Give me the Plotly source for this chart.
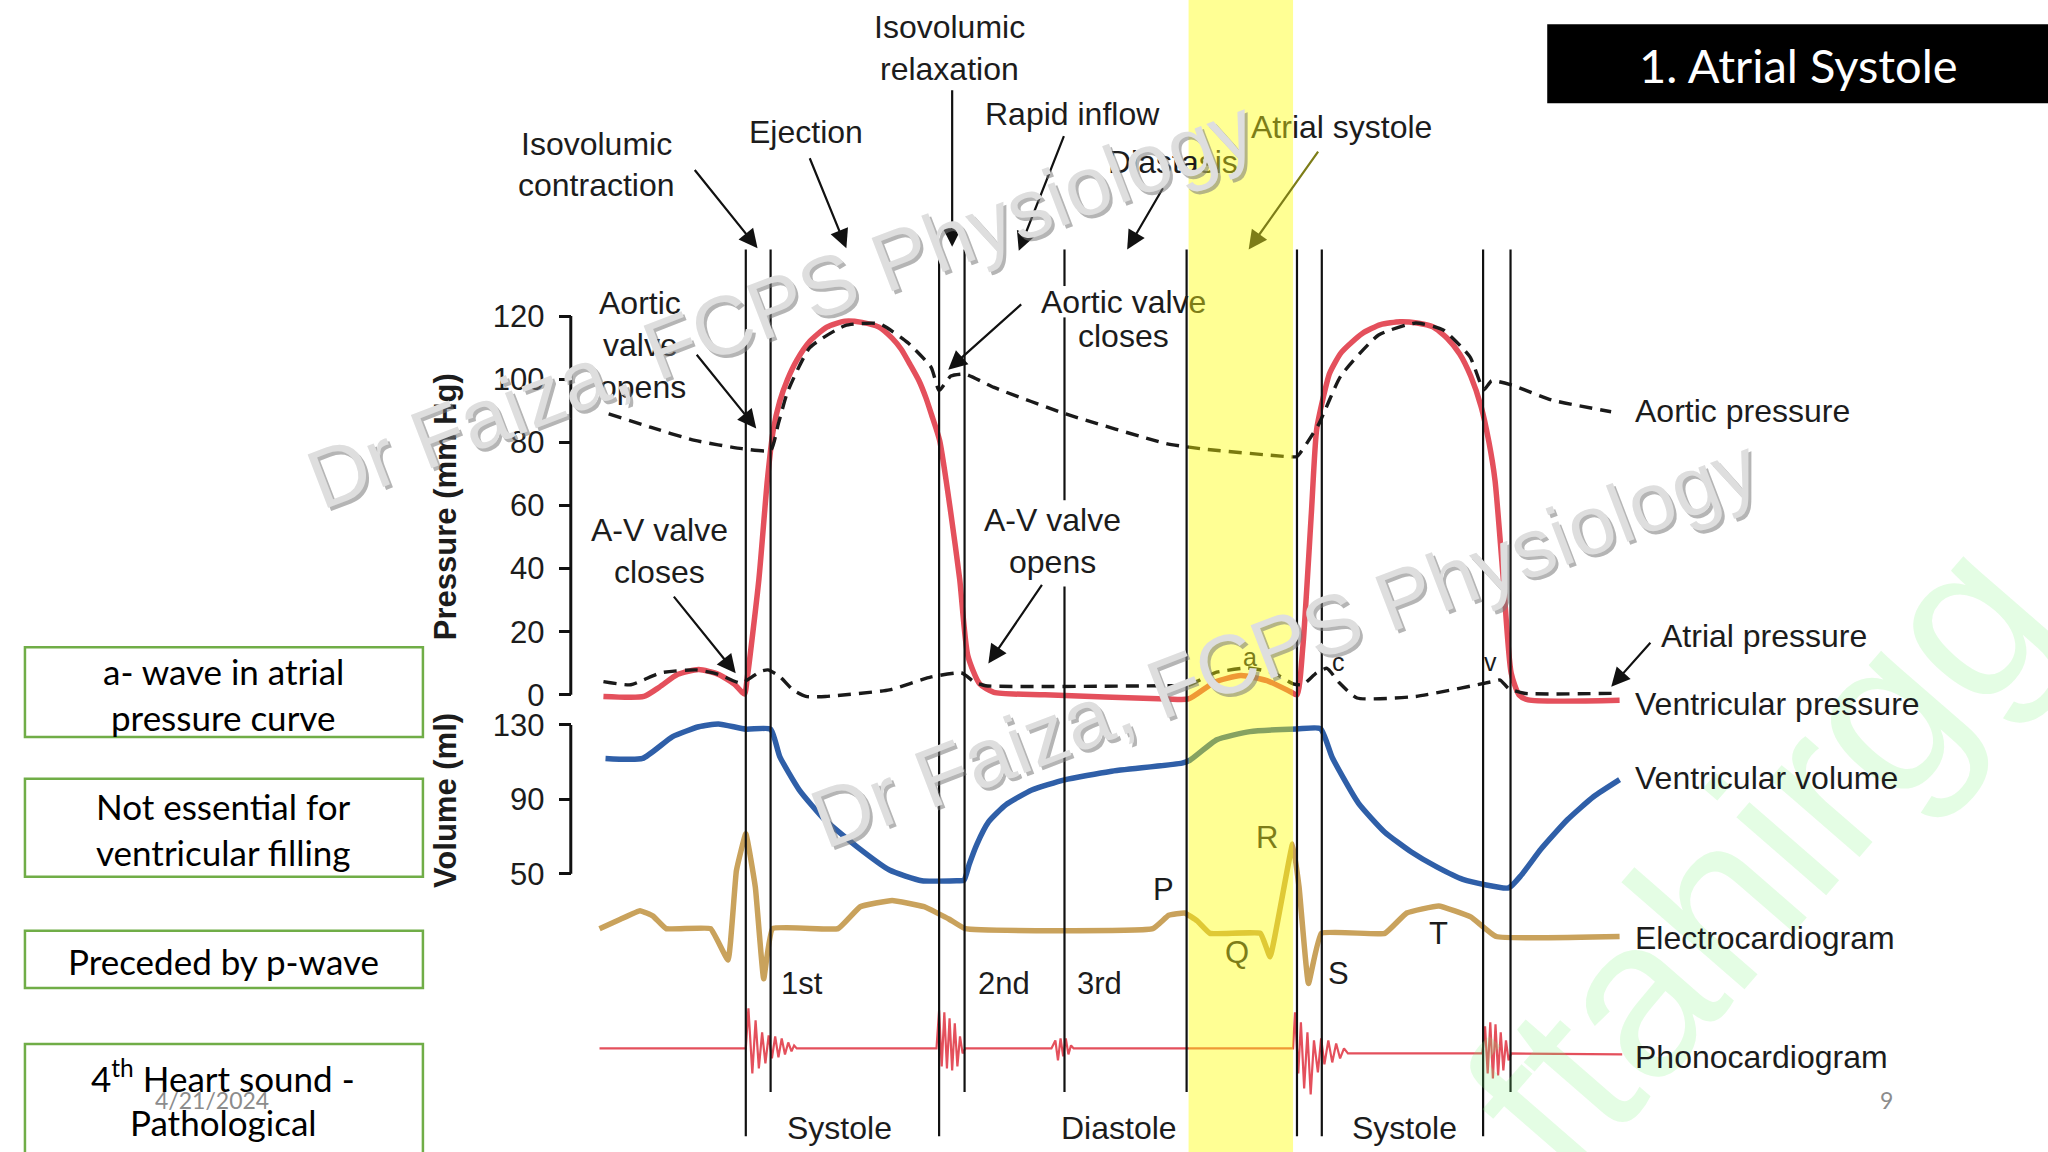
import plotly.graph_objects as go

# ---------------- data (time axis in drawing units) ----------------
aortic_t = [466, 498, 532, 568, 590, 596, 603, 620, 647, 673, 695, 713, 719, 728, 739, 761, 816, 893, 919, 985, 993,
            1001, 1010, 1026.5, 1055.5, 1084, 1105, 1125.6, 1136, 1142, 1157, 1188, 1233.5]
aortic_p = [89, 84.8, 80.6, 78, 77.5, 86, 96, 110, 117, 117.6, 111.6, 103.7, 96.4, 101, 101.6, 97.4, 89, 79.6, 78, 75.5,
            75.5, 80, 86, 101, 114, 117.8, 115.6, 107, 96.6, 99.5, 98.2, 93.4, 89.7]

vent_t = [462, 493, 505, 519, 535, 550, 562, 570, 572, 581, 587.5, 592, 597, 603, 610, 620, 633, 647, 660, 673, 683,
          690, 697, 703.6, 709, 713, 719.4, 728, 734.8, 741, 750, 761, 800, 893, 910, 930, 950, 970, 988, 993, 997.5,
          1004, 1008, 1013, 1018, 1027, 1043, 1057, 1072, 1085, 1097, 1108, 1117.6, 1126, 1134, 1140, 1144.6, 1151,
          1157, 1163, 1170, 1240]
vent_p = [-0.5, -0.5, 2.5, 6.5, 8, 6.5, 3.5, 0.3, 5, 36.5, 68, 83.8, 93, 100, 106, 112, 116.5, 118.4, 118, 116.5, 113,
          109.5, 104.5, 99.5, 94, 89, 80.6, 57.5, 36.5, 12.4, 3.5, 0.8, 0, -1.3, -1.3, 4, 6.1, 4.5, 1.0, 0, 15.3,
          57.5, 83.9, 94, 101.9, 108.5, 114.5, 117.3, 118.2, 117.8, 116.6, 113, 108, 101, 91.3, 80, 68, 36.4,
          6.9, 0, -1.6, -1.7]

atrial_t = [462, 483, 506, 533, 550, 567.4, 582, 588, 597, 607, 617, 632, 681, 713, 736, 740, 746, 754.6, 893, 910,
            930, 955, 975, 990, 997.5, 1008, 1016, 1025, 1039, 1084, 1142.6, 1148.6, 1155, 1167, 1237]
atrial_p = [4.2, 3.2, 7, 7.9, 6.5, 3.7, 7.4, 7.9, 5.8, 1.6, -0.5, -0.5, 1.6, 5.7, 7, 6, 4, 2.9, 2.9, 3,
            7, 8.5, 7, 3.5, 3.2, 7, 8.4, 4, -1, -0.5, 4.2, 4.7, 2, 0.5, 0.5]

vol_t = [463.6, 492, 515, 535, 550, 571, 590, 597, 612, 631.5, 656, 681, 705.7, 733, 738, 742, 748, 757, 770, 790,
         815, 850, 905, 911, 931.6, 957, 993, 1011, 1020, 1040, 1060, 1080, 1100, 1120, 1155, 1165, 1180, 1200,
         1220, 1240]
vol_ml = [112, 112, 123.7, 129, 130.5, 127.7, 127.7, 113, 95, 79, 64.6, 52, 46.3, 46.3, 46.5, 55, 66, 78, 87, 95,
          100.5, 105, 109.5, 111, 122, 126.4, 127.8, 128, 112.5, 88, 72.5, 62, 53.7, 47, 42.4, 49.5, 63.4, 79,
          91.4, 100.6]

ecg_t = [459, 475, 490, 500, 510, 544, 557.4, 563.8, 571, 578.3, 584.7, 591.5, 641.6, 658.6, 683, 707.5, 726.8, 739,
         882.6, 894.8, 907, 916.6, 926.4, 965, 972.4, 989.7, 994.6, 1001.8, 1011.6, 1060.3, 1077, 1101.5, 1126,
         1145.5, 1240]
ecg_mv = [0, 0.12, 0.23, 0.16, 0, 0, -0.4, 0.74, 1.21, 0.53, -0.64, 0, 0, 0.28, 0.36, 0.28, 0.12, 0,
          0, 0.17, 0.2, 0.1, -0.06, -0.06, -0.36, 1.08, 0.53, -0.7, -0.06, -0.06, 0.2, 0.29, 0.15,
          -0.1, -0.1]

phono_t = [459, 571, 573, 576, 578.5, 581, 583.5, 586, 588.5, 591, 593.5, 596, 598.5, 601, 603.5, 606, 608, 610,
           717, 719, 721, 723, 725, 727, 729, 731, 733, 735, 737, 739,
           805, 808, 810, 812, 814, 816, 818, 820, 822,
           990, 991.5, 994, 996, 998.5, 1001, 1003.5, 1006, 1009, 1011.5, 1014, 1017, 1020, 1023, 1026, 1029, 1032,
           1135, 1137, 1139, 1141, 1143, 1145, 1147, 1149, 1151, 1153, 1155, 1157, 1242]
phono_a = [0, 0, 40, -25, 28, -20, 16, -15, 13, -10, 12, -9, 10, -6, 6, -3, 3, 0,
           0, 38, -18, 36, -20, 30, -22, 25, -18, 12, -5, 0,
           0, 8, -12, 10, -8, 10, -6, 3, 0,
           0, 36, -25, 26, -40, 16, -46, 8, -24, 10, -16, 8, -14, 5, -10, 0, -5,
           -5, 22, -25, 26, -30, 24, -27, 16, -22, 8, -12, -5, -6]

pressure_ticks = [0, 20, 40, 60, 80, 100, 120]
volume_ticks = [50, 90, 130]
phase_lines = [571, 590, 719, 738.5, 815, 908.5, 993, 1012, 1135.5, 1156.5]
phase_line_bottoms = [870, 836, 870, 836, 836, 836, 870, 870, 870, 836]

# ---------------- layout geometry (drawing units: 1568 x 882) ----------------
SW, SH = 1568.0, 882.0
FONT = "Liberation Sans, Arial, sans-serif"
TXT = "#1c1c1c"
OLIVE = "#7d7d18"


def dom(y_bottom, y_top):
    return [1 - y_bottom / SH, 1 - y_top / SH]


# pressure axis: 0 -> y 532, 120 -> y 242
p_px = (532 - 242) / 120.0
p_rng = [-12, 128]
p_dom = dom(532 - p_rng[0] * p_px, 532 - p_rng[1] * p_px)
# volume axis: 130 -> 555, 50 -> 669
v_px = (669 - 555) / 80.0
v_rng = [30, 140]
v_dom = dom(555 + (130 - v_rng[0]) * v_px, 555 + (130 - v_rng[1]) * v_px)
# ECG axis: baseline 711, 60 px per mV
e_rng = [-1.2, 1.6]
e_dom = dom(711 - e_rng[0] * 60, 711 - e_rng[1] * 60)
# phono axis: baseline 802.7, unit = 1/1.306 px
f_rng = [-60, 60]
f_dom = dom(802.7 - f_rng[0] / 1.306, 802.7 - f_rng[1] / 1.306)

RED = "#e4505c"
BLUE = "#2f5fa8"
TAN = "#c9a25c"
DASH = "13px,8px"

fig = go.Figure()
fig.add_trace(go.Scatter(x=vent_t, y=vent_p, yaxis="y2", mode="lines",
                         line=dict(color=RED, width=5.5, shape="spline", smoothing=0.6)))
fig.add_trace(go.Scatter(x=aortic_t, y=aortic_p, yaxis="y2", mode="lines",
                         line=dict(color="#1a1a1a", width=3.4, dash=DASH, shape="spline", smoothing=0.5)))
fig.add_trace(go.Scatter(x=atrial_t, y=atrial_p, yaxis="y2", mode="lines",
                         line=dict(color="#1a1a1a", width=3.4, dash=DASH, shape="spline", smoothing=0.5)))
fig.add_trace(go.Scatter(x=vol_t, y=vol_ml, yaxis="y3", mode="lines",
                         line=dict(color=BLUE, width=5.5, shape="spline", smoothing=0.5)))
fig.add_trace(go.Scatter(x=ecg_t, y=ecg_mv, yaxis="y4", mode="lines",
                         line=dict(color=TAN, width=5.5, shape="spline", smoothing=0.3)))
fig.add_trace(go.Scatter(x=phono_t, y=phono_a, yaxis="y5", mode="lines",
                         line=dict(color=RED, width=2.2)))

shapes = []
# axis brackets
shapes.append(dict(type="line", xref="x", yref="y2", x0=437, x1=437, y0=pressure_ticks[0], y1=pressure_ticks[-1],
                   line=dict(color="#111", width=3)))
shapes.append(dict(type="line", xref="x", yref="y3", x0=437, x1=437, y0=volume_ticks[0], y1=volume_ticks[-1],
                   line=dict(color="#111", width=3)))
# phase lines
for xv, yb in zip(phase_lines, phase_line_bottoms):
    if abs(xv - 815) < 1:
        segs = [(191, 219), (243, 383), (449, yb)]
    else:
        segs = [(191, yb)]
    for a, b in segs:
        shapes.append(dict(type="line", xref="x", yref="y", x0=xv, x1=xv, y0=a, y1=b,
                           line=dict(color="#111", width=2.2)))
# yellow highlight (atrial systole)
shapes.append(dict(type="rect", xref="x", yref="paper", x0=910, x1=990, y0=0, y1=1,
                   fillcolor="rgba(255,255,0,0.42)", line=dict(width=0), layer="above"))
# title box
shapes.append(dict(type="rect", xref="x", yref="y", x0=1184.6, x1=1570, y0=18.6, y1=79,
                   fillcolor="black", line=dict(width=0), layer="above"))
# left boxes
for y0, y1 in [(495.5, 564.3), (596.2, 671.2), (712.7, 756.5), (799.3, 886)]:
    shapes.append(dict(type="rect", xref="x", yref="y", x0=19.1, x1=323.8, y0=y0, y1=y1,
                       line=dict(color="#70ad47", width=2.5), fillcolor="rgba(0,0,0,0)", layer="above"))

ann = []


def label(x, y, text, size=32, color=TXT, xanchor="center", family=FONT, angle=0, **kw):
    ann.append(dict(x=x, y=y, xref="x", yref="y", text=text, showarrow=False, xanchor=xanchor,
                    yanchor="middle", textangle=angle, font=dict(family=family, size=size, color=color), **kw))


def arrow(tx, ty, hx, hy, color="#111"):
    ann.append(dict(x=hx, y=hy, ax=tx, ay=ty, xref="x", yref="y", axref="x", ayref="y", text="",
                    showarrow=True, arrowhead=2, arrowsize=1.7, arrowwidth=2.2, arrowcolor=color))


# watermark green
label(1345, 655, "ftahirgg", size=225, color="rgba(120,245,120,0.20)", angle=-49)

# phase labels
label(727, 21, "Isovolumic")
label(727, 53, "relaxation")
label(457, 110, "Isovolumic")
label(457, 142, "contraction")
label(617, 101, "Ejection")
label(821, 87, "Rapid inflow")
label(898, 124, "Diasta<span style='color:%s'>sis</span>" % OLIVE)
label(1027, 97, "<span style='color:%s'>Atr</span>ial systole" % OLIVE)
label(860, 231, "Aortic valv<span style='color:%s'>e</span>" % OLIVE)
label(860, 257, "closes")
label(490, 232, "Aortic")
label(490, 264, "valve")
label(492, 296, "opens")
label(505, 406, "A-V valve")
label(505, 438, "closes")
label(806, 398, "A-V valve")
label(806, 430, "opens")
label(643, 864, "Systole")
label(857, 864, "Diastole")
label(1075, 864, "Systole")
label(614, 753, "1st", size=31)
label(769, 753, "2nd", size=31)
label(842, 753, "3rd", size=31)
label(891, 681, "P", size=31)
label(947, 729, "Q", size=31, color=OLIVE)
label(970, 641, "R", size=31, color=OLIVE)
label(1025, 745, "S", size=31)
label(1101, 715, "T", size=31)
label(957, 503, "a", size=25, color=OLIVE)
label(1025, 507, "c", size=25)
label(1141, 507, "v", size=25)
label(1250, 315, "Aortic pressure", xanchor="left")
label(1270, 487, "Atrial pressure", xanchor="left")
label(1250, 539, "Ventricular pressure", xanchor="left")
label(1250, 596, "Ventricular volume", xanchor="left")
label(1250, 718, "Electrocardiogram", xanchor="left")
label(1250, 809, "Phonocardiogram", xanchor="left")
label(341, 388, "<b>Pressure (mm Hg)</b>", size=31, angle=-90)
label(341, 613, "<b>Volume (ml)</b>", size=31, angle=-90)

# arrows
arrow(531, 129, 580, 190)
arrow(619.5, 120, 648, 190)
arrow(729, 68, 729, 189)
arrow(815, 103, 780, 192)
arrow(891, 143, 863, 191)
arrow(1010, 115, 956, 191, color=OLIVE)
arrow(783, 232, 726, 283)
arrow(532.5, 270.5, 579, 328)
arrow(515, 455.6, 563.3, 515.5)
arrow(798.5, 446.6, 756.7, 508)
arrow(1264.6, 491, 1233.6, 525.8)

# slide elements
LATO = "Lato, Open Sans, sans-serif"
label(1377, 49.5, "1. Atrial Systole", size=47, color="white", family=LATO)
label(171, 514, "a- wave in atrial", size=35, color="black", family=LATO)
label(171, 549, "pressure curve", size=35, color="black", family=LATO)
label(171, 617, "Not essential for", size=35, color="black", family=LATO)
label(171, 652, "ventricular filling", size=35, color="black", family=LATO)
label(171, 736, "Preceded by p-wave", size=35, color="black", family=LATO)
label(171, 824, "4<sup>th</sup> Heart sound -", size=35, color="black", family=LATO)
label(171, 859, "Pathological", size=35, color="black", family=LATO)
label(162, 842, "4/21/2024", size=23, color="#8c8c8c", family=LATO)
label(1444, 842, "9", size=23, color="#8c8c8c", family=LATO)

# grey watermarks with shadow
for cx, cy in [(598, 232), (984, 492)]:
    label(cx + 2.5, cy + 2.5, "Dr Faiza, FCPS Physiology", size=83, color="rgba(120,120,120,0.55)", angle=-21)
    label(cx, cy, "Dr Faiza, FCPS Physiology", size=83, color="#dedede", angle=-21)

axis_common = dict(showgrid=False, zeroline=False, showline=False, ticks="outside", ticklen=12, tickwidth=2.5,
                   tickcolor="#111", tickfont=dict(family=FONT, size=31, color=TXT), anchor="free",
                   position=437 / SW, side="left", ticklabelstandoff=8, fixedrange=True)

fig.update_layout(
    width=2048, height=1152, margin=dict(l=0, r=0, t=0, b=0),
    paper_bgcolor="white", plot_bgcolor="rgba(0,0,0,0)", showlegend=False,
    xaxis=dict(range=[0, SW], domain=[0, 1], visible=False, fixedrange=True),
    yaxis=dict(range=[SH, 0], domain=[0, 1], visible=False, fixedrange=True),
    yaxis2=dict(range=p_rng, domain=p_dom, tickvals=pressure_ticks, **axis_common),
    yaxis3=dict(range=v_rng, domain=v_dom, tickvals=volume_ticks, **axis_common),
    yaxis4=dict(range=e_rng, domain=e_dom, visible=False, anchor="x", fixedrange=True),
    yaxis5=dict(range=f_rng, domain=f_dom, visible=False, anchor="x", fixedrange=True),
    shapes=shapes, annotations=ann,
)

fig.write_html("out.html", config={"displayModeBar": False},
               post_script="document.body.style.margin='0px';document.body.style.overflow='hidden';")
